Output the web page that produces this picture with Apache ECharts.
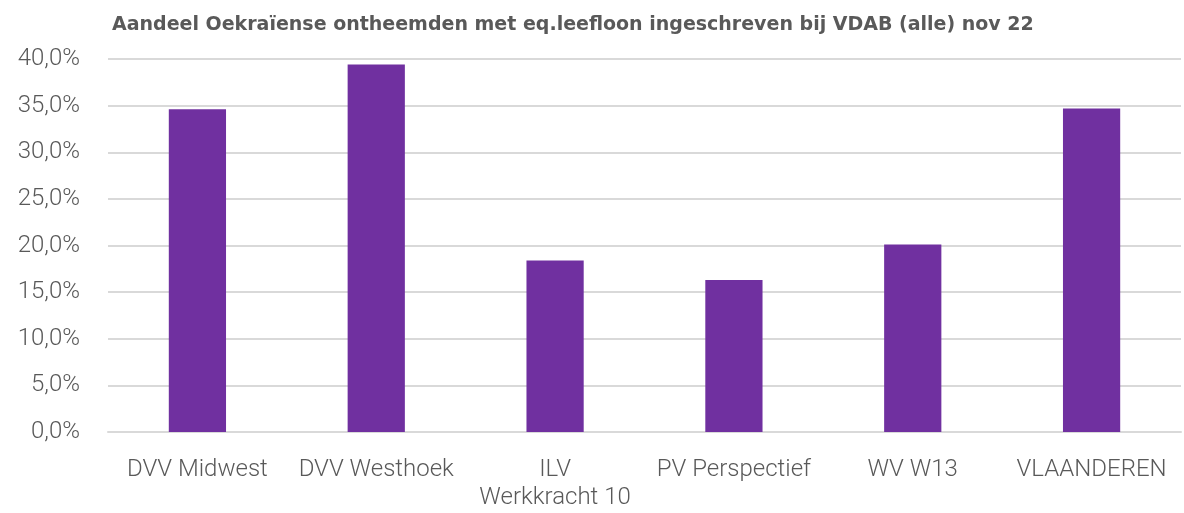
<!DOCTYPE html>
<html>
<head>
<meta charset="utf-8">
<script src="https://cdn.jsdelivr.net/npm/echarts@6/dist/echarts.min.js"></script>
<style>
    html, body { margin: 0; padding: 0; background: #fff; }
    #main { width: 1184px; height: 513px; }
</style>
</head>
<body>
<div id="main"></div>
<script>
// categorieën en waarden (in %)
let categories = ['DVV Midwest', 'DVV Westhoek', 'ILV Werkkracht 10', 'PV Perspectief', 'WV W13', 'VLAANDEREN'];
let aandeel = [34.6, 39.4, 18.4, 16.3, 20.1, 34.7];
let yTicks = [0, 5, 10, 15, 20, 25, 30, 35, 40];

let chart = echarts.init(document.getElementById('main'));
chart.setOption({
    animation: false,
    title: {
        text: 'Aandeel Oekraïense ontheemden met eq.leefloon ingeschreven bij VDAB (alle) nov 22',
        left: 107,
        top: 11,
        textStyle: {
            fontFamily: 'DejaVu Sans',
            fontWeight: 'bold',
            fontSize: 19,
            color: '#595959'
        }
    },
    grid: {
        left: 108,
        right: 3,
        top: 59,
        bottom: 81
    },
    xAxis: {
        type: 'category',
        data: categories,
        axisTick: { show: false },
        axisLine: { lineStyle: { color: '#d9d9d9', width: 2 } },
        axisLabel: {
            interval: 0,
            margin: 24,
            fontFamily: 'Roboto',
            fontWeight: 300,
            fontSize: 24,
            lineHeight: 28,
            color: '#595959',
            formatter: v => v.replace('ILV ', 'ILV\n')
        }
    },
    yAxis: {
        type: 'value',
        min: yTicks[0],
        max: yTicks[yTicks.length - 1],
        interval: 5,
        splitLine: { lineStyle: { color: '#d9d9d9', width: 2 } },
        axisLine: { show: false },
        axisTick: { show: false },
        axisLabel: {
            margin: 28,
            fontFamily: 'Roboto',
            fontWeight: 300,
            fontSize: 24,
            color: '#595959',
            formatter: v => v.toFixed(1).replace('.', ',') + '%'
        }
    },
    series: [{
        type: 'bar',
        data: aandeel,
        barWidth: '32%',
        itemStyle: { color: '#7030a0' }
    }]
});
</script>
</body>
</html>
